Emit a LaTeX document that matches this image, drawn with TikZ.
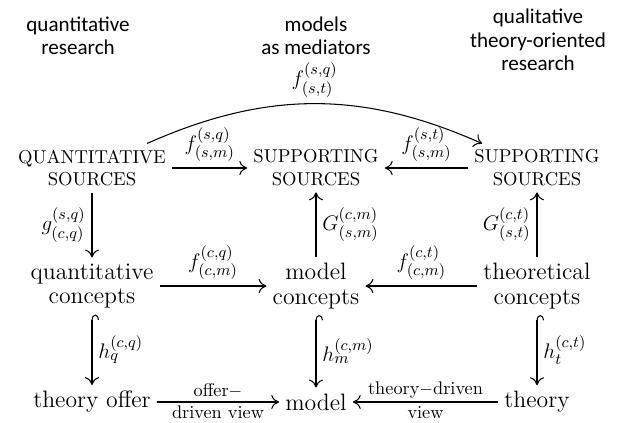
\documentclass[tikz,border=0pt]{standalone}
\usepackage{fontspec}
\newfontfamily\headfont{Carlito}
\usetikzlibrary{arrows.meta, positioning}

\begin{document}
\begin{tikzpicture}[
    header/.style={font=\headfont\fontsize{12}{13.3}\selectfont, align=center},
    capsbox/.style={font=\fontsize{10.6}{13}\selectfont, align=center},
    term/.style={font=\fontsize{13.5}{14}\selectfont, align=center},
    lbl/.style={font=\fontsize{13}{15}\selectfont},
    note/.style={font=\fontsize{10.4}{12}\selectfont, inner sep=2pt},
    arrow/.style={-{Computer Modern Rightarrow[length=4.5pt, width=8pt]}, line width=0.6pt},
    hook/.style={{Hooks[right, length=3pt, width=8pt]}-{Computer Modern Rightarrow[length=4.5pt, width=8pt]}, line width=0.6pt}
]
\useasboundingbox (0,0) rectangle (12.44,-8.46);

% ---- judul kolom ----
\node[header] (hq) at (1.56,-0.72)  {quantitative\\research};
\node[header] (hm) at (6.32,-0.72)  {models\\as mediators};
\node[header] (ht) at (10.76,-0.80) {qualitative\\theory-oriented\\research};

% ---- baris sumber ----
\node[capsbox] (qsrc) at (1.84,-3.36)  {QUANTITATIVE\\SOURCES};
\node[capsbox] (msrc) at (6.32,-3.36)  {SUPPORTING\\SOURCES};
\node[capsbox] (tsrc) at (10.74,-3.36) {SUPPORTING\\SOURCES};

% ---- baris konsep ----
\node[term] (qcon) at (1.84,-5.72)  {quantitative\\concepts};
\node[term] (mcon) at (6.32,-5.72)  {model\\concepts};
\node[term] (tcon) at (10.74,-5.72) {theoretical\\concepts};

% ---- baris bawah ----
\node[term] (toffer) at (1.84,-8.04)  {theory offer};
\node[term] (model)  at (6.32,-8.04)  {model};
\node[term] (theory) at (10.74,-8.04) {theory};

% ---- panah antar sumber ----
\draw[arrow] (qsrc) to[bend left=24] node[above, lbl]{$f^{(s,q)}_{(s,t)}$} (tsrc);
\draw[arrow] (qsrc) -- node[above, lbl]{$f^{(s,q)}_{(s,m)}$} (msrc);
\draw[arrow] (tsrc) -- node[above, lbl]{$f^{(s,t)}_{(s,m)}$} (msrc);

% ---- panah vertikal sumber <-> konsep ----
\draw[arrow] (qsrc) -- node[left, lbl]{$g^{(s,q)}_{(c,q)}$} (qcon);
\draw[arrow] (mcon) -- node[right, lbl]{$G^{(c,m)}_{(s,m)}$} (msrc);
\draw[arrow] (tcon) -- node[left, lbl]{$G^{(c,t)}_{(s,t)}$} (tsrc);

% ---- panah antar konsep ----
\draw[arrow] (qcon) -- node[above, lbl]{$f^{(c,q)}_{(c,m)}$} (mcon);
\draw[arrow] (tcon) -- node[above, lbl]{$f^{(c,t)}_{(c,m)}$} (mcon);

% ---- panah kait ke baris bawah ----
\draw[hook] (qcon) -- node[right, lbl]{$h^{(c,q)}_q$} (toffer);
\draw[hook] (mcon) -- node[right, lbl]{$h^{(c,m)}_m$} (model);
\draw[hook] (tcon) -- node[right, lbl]{$h^{(c,t)}_t$} (theory);

% ---- panah ke model ----
\draw[arrow] (toffer) -- node[above, note]{offer$-$} node[below, note]{driven view} (model);
\draw[arrow] (theory) -- node[above, note]{theory$-$driven} node[below, note]{view} (model);

\end{tikzpicture}
\end{document}
